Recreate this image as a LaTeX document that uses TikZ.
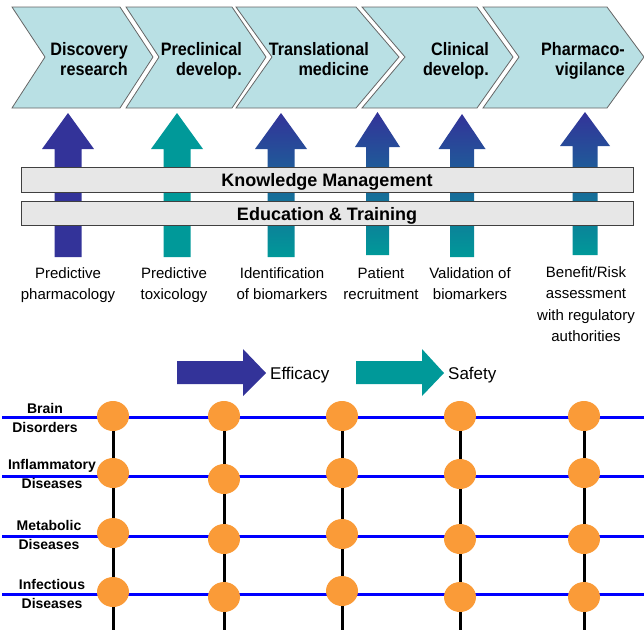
\documentclass[tikz,border=0pt]{standalone}
\usepackage{fontspec}
\setmainfont{Liberation Sans}
\newfontfamily\narrowsans[FakeStretch=0.9]{Liberation Sans}
\usetikzlibrary{shapes.geometric}
\definecolor{chevfill}{RGB}{185,224,228}
\definecolor{effblue}{RGB}{51,51,153}
\definecolor{safeteal}{RGB}{0,153,153}
\definecolor{dotorange}{RGB}{250,155,56}
\definecolor{barfill}{RGB}{231,231,231}

\begin{document}
\begin{tikzpicture}[x = 1pt, y = -1pt]
\tikzstyle{ChevronStyle}=[
fill = chevfill,
draw = black!60,
line width = 0.8pt]
\tikzstyle{StepText}=[
font = \narrowsans\bfseries\fontsize{18}{20}\selectfont,
align = right,
anchor = north east,
inner sep = 0pt]
\tikzstyle{BarStyle}=[
rectangle,
fill = barfill,
draw = black!75,
line width = 0.8pt,
minimum width = 612pt,
font = \bfseries\fontsize{18}{20}\selectfont,
text height = 13pt,
text depth = 0pt,
inner sep = 0pt]
\tikzstyle{TaskText}=[
font = \fontsize{15}{21.5}\selectfont,
align = center,
anchor = north,
inner sep = 0pt]
\tikzstyle{LegendText}=[
font = \fontsize{17}{20}\selectfont,
anchor = base west,
inner sep = 0pt]
\tikzstyle{AreaText}=[
font = \bfseries\fontsize{14}{19}\selectfont,
align = center,
anchor = north,
inner sep = 0pt]
\tikzstyle{RowLine}=[draw = blue, line width = 3pt]
\tikzstyle{ColLine}=[draw = black, line width = 3pt]
\tikzstyle{DotStyle}=[
shape = ellipse,
fill = dotorange,
minimum width = 32pt,
minimum height = 30pt,
inner sep = 0pt]
\useasboundingbox (0,0) rectangle (644,630);
\draw[ChevronStyle] (12,7) -- (120,7) -- (153,57) -- (120,108) -- (12,108) -- (45,57) -- cycle;
\draw[ChevronStyle] (126,7) -- (232,7) -- (266,57) -- (232,108) -- (126,108) -- (159,57) -- cycle;
\draw[ChevronStyle] (236,7) -- (356,7) -- (399,57) -- (356,108) -- (236,108) -- (272,57) -- cycle;
\draw[ChevronStyle] (362,7) -- (477,7) -- (513,57) -- (477,108) -- (362,108) -- (405,57) -- cycle;
\draw[ChevronStyle] (483,7) -- (607,7) -- (644,57) -- (607,108) -- (483,108) -- (519,57) -- cycle;
\node[StepText] (discovery) at (128,42) {Discovery\\research};
\node[StepText] (preclin) at (242,42) {Preclinical\\develop.};
\node[StepText] (transl) at (369,42) {Translational\\medicine};
\node[StepText] (clinical) at (489,42) {Clinical\\develop.};
\node[StepText] (pharmaco) at (625,42) {Pharmaco-\\vigilance};
\fill[effblue] (54.5,257) -- (54.5,149) -- (42,149) -- (68,113) -- (94,149) -- (81.5,149) -- (81.5,257) -- cycle;
\fill[safeteal] (163.5,257) -- (163.5,149) -- (151,149) -- (177,113) -- (203,149) -- (190.5,149) -- (190.5,257) -- cycle;
\shade[top color = effblue, bottom color = safeteal] (267.5,257) -- (267.5,149) -- (255,149) -- (281,113) -- (307,149) -- (294.5,149) -- (294.5,257) -- cycle;
\shade[top color = effblue, bottom color = safeteal] (366,255) -- (366,147) -- (355,147) -- (377.5,112) -- (400,147) -- (389,147) -- (389,255) -- cycle;
\shade[top color = effblue, bottom color = safeteal] (450,257) -- (450,149) -- (438.5,149) -- (462,114) -- (485.5,149) -- (474,149) -- (474,257) -- cycle;
\shade[top color = effblue, bottom color = safeteal] (572.5,255) -- (572.5,146) -- (560,146) -- (585,112) -- (610,146) -- (597.5,146) -- (597.5,255) -- cycle;
\node[BarStyle, minimum height = 25pt] (km) at (327,179.5) {Knowledge Management};
\node[BarStyle, minimum height = 24pt] (edu) at (327,213.5) {Education \& Training};
\node[TaskText] (predpharm) at (68,267) {Predictive\\pharmacology};
\node[TaskText] (predtox) at (174,267) {Predictive\\toxicology};
\node[TaskText] (idbio) at (282,267) {Identification\\of biomarkers};
\node[TaskText] (patrec) at (381,267) {Patient\\recruitment};
\node[TaskText] (valbio) at (470,267) {Validation of\\biomarkers};
\node[TaskText] (benrisk) at (586,266) {Benefit/Risk\\assessment\\with regulatory\\authorities};
\fill[effblue] (177,361) -- (243,361) -- (243,349) -- (266,373) -- (243,396) -- (243,384) -- (177,384) -- cycle;
\node[LegendText] (efficacy) at (270,379) {Efficacy};
\fill[safeteal] (356,361) -- (422,361) -- (422,349) -- (444,373) -- (422,396) -- (422,384) -- (356,384) -- cycle;
\node[LegendText] (safety) at (448,379) {Safety};
\coordinate (brainL) at (2,417);
\coordinate (brainR) at (644,417);
\coordinate (inflamL) at (2,476);
\coordinate (inflamR) at (644,476);
\coordinate (metabL) at (2,536);
\coordinate (metabR) at (644,536);
\coordinate (infectL) at (2,594);
\coordinate (infectR) at (644,594);
\coordinate (col1T) at (113,401);
\coordinate (col1B) at (113,630);
\coordinate (col2T) at (224,401);
\coordinate (col2B) at (224,630);
\coordinate (col3T) at (342,401);
\coordinate (col3B) at (342,630);
\coordinate (col4T) at (460,401);
\coordinate (col4B) at (460,630);
\coordinate (col5T) at (584,401);
\coordinate (col5B) at (584,630);
\draw[RowLine] (brainL) -- (brainR);
\draw[RowLine] (inflamL) -- (inflamR);
\draw[RowLine] (metabL) -- (metabR);
\draw[RowLine] (infectL) -- (infectR);
\draw[ColLine] (col1T) -- (col1B);
\draw[ColLine] (col2T) -- (col2B);
\draw[ColLine] (col3T) -- (col3B);
\draw[ColLine] (col4T) -- (col4B);
\draw[ColLine] (col5T) -- (col5B);
\node[AreaText] (brainlbl) at (45,403) {Brain\\Disorders};
\node[AreaText] (inflamlbl) at (52,459) {Inflammatory\\Diseases};
\node[AreaText] (metablbl) at (49,520) {Metabolic\\Diseases};
\node[AreaText] (infectlbl) at (52,579) {Infectious\\Diseases};
\node[DotStyle] (brain1) at (113,416) {};
\node[DotStyle] (brain2) at (224,416) {};
\node[DotStyle] (brain3) at (342,416) {};
\node[DotStyle] (brain4) at (460,416) {};
\node[DotStyle] (brain5) at (584,416) {};
\node[DotStyle] (inflam1) at (113,473) {};
\node[DotStyle] (inflam2) at (224,479) {};
\node[DotStyle] (inflam3) at (342,473) {};
\node[DotStyle] (inflam4) at (460,474) {};
\node[DotStyle] (inflam5) at (584,473) {};
\node[DotStyle] (metab1) at (113,533) {};
\node[DotStyle] (metab2) at (224,539) {};
\node[DotStyle] (metab3) at (342,534) {};
\node[DotStyle] (metab4) at (460,539) {};
\node[DotStyle] (metab5) at (584,539) {};
\node[DotStyle] (infect1) at (113,592) {};
\node[DotStyle] (infect2) at (224,597) {};
\node[DotStyle] (infect3) at (342,591) {};
\node[DotStyle] (infect4) at (460,597) {};
\node[DotStyle] (infect5) at (584,597) {};
\end{tikzpicture}
\end{document}
